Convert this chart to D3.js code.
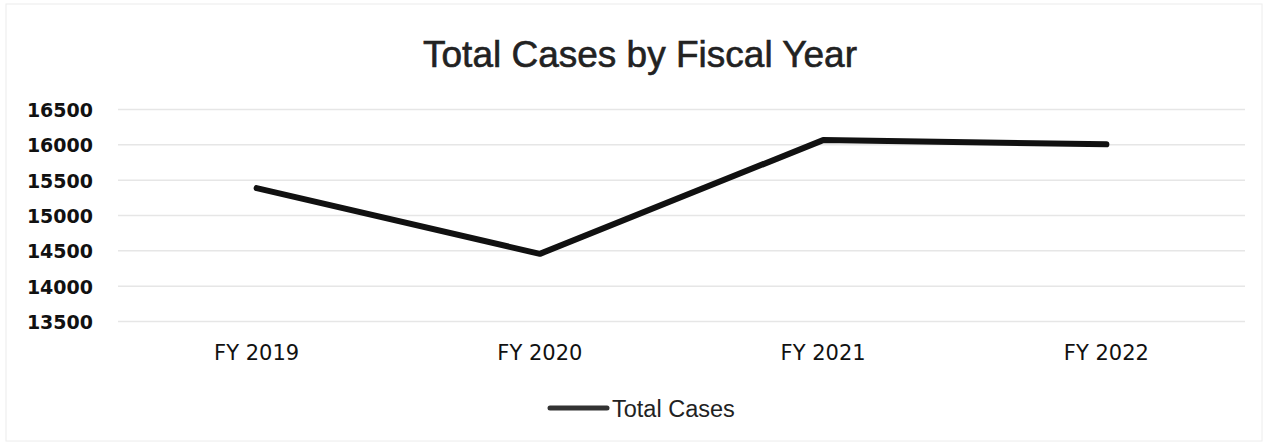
<!DOCTYPE html>
<html>
<head>
<meta charset="utf-8">
<script src="https://cdn.jsdelivr.net/npm/d3@7"></script>
<style>
  body { margin: 0; background: #fff; }
</style>
</head>
<body>
<svg></svg>
<script>
const years = ['FY 2019', 'FY 2020', 'FY 2021', 'FY 2022'],
      totalCases = [15380, 14450, 16060, 16000],
      yTicks = [13500, 14000, 14500, 15000, 15500, 16000, 16500];

const width = 1268,
      height = 447,
      plotLeft = 115,
      plotRight = 1248,
      plotTop = 109,
      plotBottom = 321;

const svg = d3.select('svg')
    .attr('width', width)
    .attr('height', height);

svg.append('rect')
    .attr('x', 6)
    .attr('y', 4)
    .attr('width', width - 12)
    .attr('height', height - 10)
    .attr('fill', '#fff')
    .attr('stroke', '#ececec');

const xScale = d3.scaleBand()
                 .domain(years)
                 .range([plotLeft, plotRight]),
      yScale = d3.scaleLinear()
                 .domain([13500, 16500])
                 .range([plotBottom, plotTop]),
      yAxis = d3.axisLeft(yScale)
                .tickValues(yTicks)
                .tickSize(-(plotRight - plotLeft - 6))
                .tickPadding(25)
                .tickFormat(d3.format('d')),
      xAxis = d3.axisBottom(xScale)
                .tickSize(0)
                .tickPadding(24);

const gy = svg.append('g')
    .attr('transform', `translate(${plotLeft + 3}, 0)`)
    .call(yAxis);
gy.select('.domain').remove();
gy.selectAll('line').attr('stroke', '#e6e6e6').attr('stroke-width', 1.5);
gy.selectAll('text')
    .attr('fill', '#111')
    .attr('dy', '0.4em')
    .style('font-family', '"DejaVu Sans", sans-serif')
    .style('font-size', '19px')
    .style('font-weight', 'bold');

const gx = svg.append('g')
    .attr('transform', `translate(0, ${plotBottom})`)
    .call(xAxis);
gx.select('.domain').remove();
gx.selectAll('text')
    .attr('fill', '#111')
    .style('font-family', '"DejaVu Sans", sans-serif')
    .style('font-size', '21px');

const line = d3.line()
    .x((d, i) => xScale(years[i]) + xScale.bandwidth() / 2)
    .y((d) => yScale(d));

svg.append('path')
    .datum(totalCases)
    .attr('d', line)
    .attr('fill', 'none')
    .attr('stroke', '#111')
    .attr('stroke-width', 6)
    .attr('stroke-linejoin', 'round')
    .attr('stroke-linecap', 'round');

svg.append('text')
    .text('Total Cases by Fiscal Year')
    .attr('x', 640)
    .attr('y', 67)
    .style('text-anchor', 'middle')
    .style('font-family', '"Liberation Sans", Arial, sans-serif')
    .style('font-size', '37px')
    .attr('fill', '#222')
    .attr('stroke', '#222')
    .attr('stroke-width', 0.6);

// legend
const legend = svg.append('g')
    .attr('transform', `translate(0, 408)`);
legend.append('line')
    .attr('x1', 550)
    .attr('x2', 607)
    .attr('stroke', '#333')
    .attr('stroke-width', 5)
    .attr('stroke-linecap', 'round');
legend.append('text')
    .text('Total Cases')
    .attr('x', 612)
    .attr('y', 9)
    .style('font-family', '"Liberation Sans", Arial, sans-serif')
    .style('font-size', '23.5px')
    .attr('fill', '#222');
</script>
</body>
</html>
